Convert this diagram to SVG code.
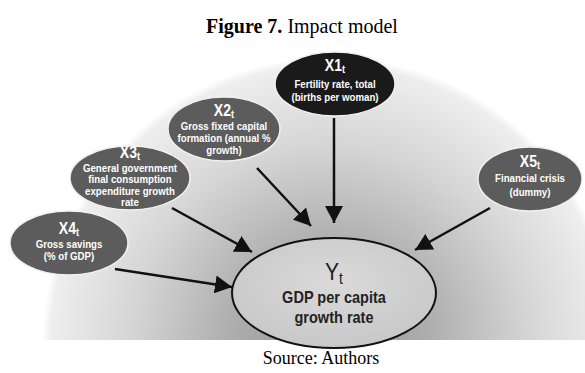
<svg xmlns="http://www.w3.org/2000/svg" width="585" height="373" viewBox="0 0 585 373">
<defs>
<radialGradient id="bg" gradientUnits="userSpaceOnUse" cx="330" cy="345" r="288">
<stop offset="0" stop-color="#939393"/>
<stop offset="0.35" stop-color="#aeaeae"/>
<stop offset="0.7" stop-color="#d6d6d6"/>
<stop offset="0.97" stop-color="#eeeeee"/>
<stop offset="1" stop-color="#ffffff"/>
</radialGradient>
<radialGradient id="yfill" cx="0.5" cy="0.4" r="0.6">
<stop offset="0" stop-color="#dadada"/>
<stop offset="1" stop-color="#c8c8c8"/>
</radialGradient>
<marker id="ah" markerUnits="userSpaceOnUse" markerWidth="18" markerHeight="18" viewBox="0 0 18 18" refX="17" refY="9" orient="auto">
<path d="M0,0 L17,9 L0,18 z" fill="#111"/>
</marker>
</defs>
<style>
.t{font-family:"Liberation Serif","Times New Roman",serif;fill:#000}
.n{font-family:"Liberation Sans",Arial,sans-serif;font-weight:bold;fill:#fff;text-anchor:middle}
.h{font-size:16px}
.s{font-size:11px}
.sub{font-size:10.5px}
.dark{fill:#5c5c5c;stroke:#f0f0f0;stroke-width:1.5}
.black{fill:#1a1a1a;stroke:#f0f0f0;stroke-width:1.5}
.c line{stroke:#111;stroke-width:2.5;marker-end:url(#ah)}
.y{font-family:"Liberation Sans",Arial,sans-serif;fill:#222;text-anchor:middle}
</style>
<rect width="585" height="373" fill="#fff"/>
<rect x="0" y="0" width="585" height="340" fill="url(#bg)"/>
<text class="t" x="302" y="33" text-anchor="middle" font-size="20"><tspan font-weight="bold">Figure 7.</tspan> Impact model</text>
<g class="c">
<line x1="334" y1="118" x2="334" y2="223"/>
<line x1="257" y1="168" x2="311" y2="226"/>
<line x1="172" y1="208" x2="252" y2="252"/>
<line x1="115" y1="269" x2="232" y2="287"/>
<line x1="490" y1="208" x2="415" y2="250"/>
</g>
<g id="Y">
<ellipse cx="334" cy="293" rx="102" ry="55" fill="url(#yfill)" stroke="#111" stroke-width="2"/>
<g transform="translate(334,0) scale(0.88,1)">
<text class="y" x="0" y="280" font-size="24">Y<tspan font-size="16" dy="4">t</tspan></text>
<text class="y" x="0" y="303" font-size="16.5" font-weight="bold">GDP per capita</text>
<text class="y" x="0" y="323" font-size="16.5" font-weight="bold">growth rate</text>
</g>
</g>
<g id="X1">
<ellipse class="black" cx="335" cy="84" rx="60" ry="32"/>
<g transform="translate(335,0) scale(0.88,1)">
<text class="n h" x="0" y="71">X1<tspan class="sub" dy="2">t</tspan></text>
<text class="n s" x="0" y="88">Fertility rate, total</text>
<text class="n s" x="0" y="101">(births per woman)</text>
</g>
</g>
<g id="X2">
<ellipse class="dark" cx="224" cy="129" rx="56" ry="32"/>
<g transform="translate(224,0) scale(0.88,1)">
<text class="n h" x="0" y="116">X2<tspan class="sub" dy="2">t</tspan></text>
<text class="n s" x="0" y="130">Gross fixed capital</text>
<text class="n s" x="0" y="142">formation (annual %</text>
<text class="n s" x="0" y="154">growth)</text>
</g>
</g>
<g id="X3">
<ellipse class="dark" cx="130" cy="178" rx="60" ry="32"/>
<g transform="translate(130,0) scale(0.88,1)">
<text class="n h" x="0" y="158">X3<tspan class="sub" dy="2">t</tspan></text>
<text class="n s" x="0" y="172">General government</text>
<text class="n s" x="0" y="183.5">final consumption</text>
<text class="n s" x="0" y="195">expenditure growth</text>
<text class="n s" x="0" y="206.5">rate</text>
</g>
</g>
<g id="X4">
<ellipse class="dark" cx="69" cy="243" rx="59" ry="32"/>
<g transform="translate(69,0) scale(0.88,1)">
<text class="n h" x="0" y="234">X4<tspan class="sub" dy="2">t</tspan></text>
<text class="n s" x="0" y="248">Gross savings</text>
<text class="n s" x="0" y="260">(% of GDP)</text>
</g>
</g>
<g id="X5">
<ellipse class="dark" cx="530" cy="179" rx="52" ry="32"/>
<g transform="translate(530,0) scale(0.88,1)">
<text class="n h" x="0" y="167">X5<tspan class="sub" dy="2">t</tspan></text>
<text class="n s" x="0" y="182">Financial crisis</text>
<text class="n s" x="0" y="196">(dummy)</text>
</g>
</g>
<text class="t" x="321" y="364" text-anchor="middle" font-size="18">Source: Authors</text>
</svg>
